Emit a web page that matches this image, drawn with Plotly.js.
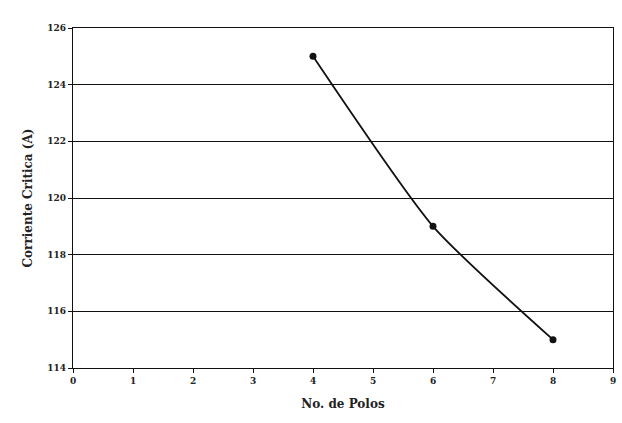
<!DOCTYPE html>
<html>
<head>
<meta charset="utf-8">
<script src="https://cdn.plot.ly/plotly-3.0.1.min.js"></script>
<style>
html,body{margin:0;padding:0;background:#fff;}
#chart{width:622px;height:423px;}
</style>
</head>
<body>
<div id="chart"></div>
<script>
const polos = [4, 6, 8];
const corriente = [125, 119, 115];
const xTicks = [0, 1, 2, 3, 4, 5, 6, 7, 8, 9];
const yTicks = [114, 116, 118, 120, 122, 124, 126];

const tickFont = {family: 'DejaVu Serif, serif', size: 9, color: '#222', weight: 'bold'};
const titleFont = {family: 'DejaVu Serif, serif', size: 12, color: '#222', weight: 'bold'};

const trace = {
  x: polos,
  y: corriente,
  type: 'scatter',
  mode: 'lines+markers',
  line: {color: '#111', width: 1.8, shape: 'spline', smoothing: 0.6},
  marker: {color: '#111', size: 7},
  hoverinfo: 'skip'
};

const layout = {
  width: 622,
  height: 423,
  margin: {l: 73, r: 9, t: 28, b: 55},
  paper_bgcolor: '#fff',
  plot_bgcolor: '#fff',
  showlegend: false,
  xaxis: {
    range: [0, 9],
    tickvals: xTicks,
    ticktext: xTicks.map(String),
    showgrid: false,
    zeroline: false,
    showline: true,
    linecolor: '#111',
    linewidth: 1.2,
    mirror: true,
    ticks: 'outside',
    ticklen: 4,
    tickcolor: '#111',
    tickfont: tickFont,
    title: {text: '<b>No. de Polos</b>', font: titleFont, standoff: 14}
  },
  yaxis: {
    range: [114, 126],
    tickvals: yTicks,
    ticktext: yTicks.map(String),
    showgrid: true,
    gridcolor: '#111',
    gridwidth: 1,
    zeroline: false,
    showline: true,
    linecolor: '#111',
    linewidth: 1.2,
    mirror: true,
    ticks: 'outside',
    ticklen: 4,
    tickcolor: '#111',
    tickfont: tickFont,
    title: {text: '<b>Corriente Critica (A)</b>', font: titleFont, standoff: 12}
  }
};

Plotly.newPlot('chart', [trace], layout, {staticPlot: true, displayModeBar: false});
</script>
</body>
</html>
